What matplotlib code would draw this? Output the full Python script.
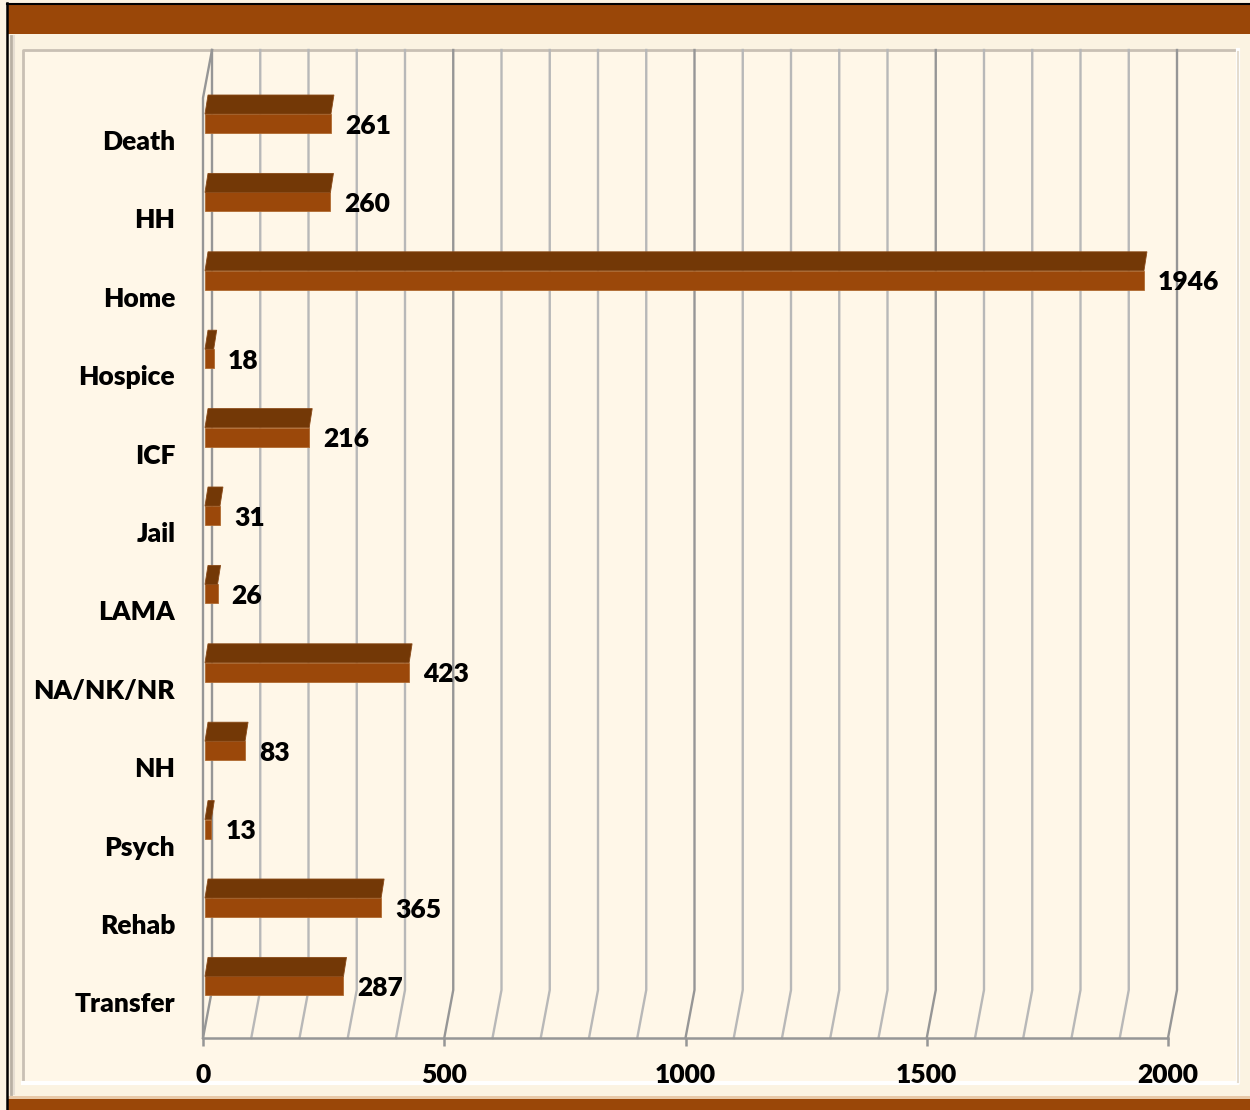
import matplotlib
matplotlib.use('Agg')
import matplotlib.pyplot as plt
from matplotlib.patches import Rectangle, Polygon
from matplotlib.lines import Line2D
from matplotlib.transforms import ScaledTranslation, blended_transform_factory
import numpy as np

plt.rcParams['font.family'] = ['Lato', 'DejaVu Sans']

# ---------------- data ----------------
categories = ['Death', 'HH', 'Home', 'Hospice', 'ICF', 'Jail', 'LAMA',
              'NA/NK/NR', 'NH', 'Psych', 'Rehab', 'Transfer']
values = [261, 260, 1946, 18, 216, 31, 26, 423, 83, 13, 365, 287]
x_ticks = [0, 500, 1000, 1500, 2000]
grid_step = 100
x_max = 2000

# ---------------- styling ----------------
W, H, DPI = 1250, 1110, 100
BROWN = '#9A4708'
BAR_FRONT = '#9B480A'
BAR_TOP = '#733806'
BG_OUTER = '#FBF3E2'
BG_INNER = '#FFF7E8'
GRID_MINOR = '#B8B8B8'
GRID_MAJOR = '#969696'
FS = 19
FW = 'heavy'

fig = plt.figure(figsize=(W / DPI, H / DPI), dpi=DPI, facecolor=BG_OUTER)


def frect(x0, y0, x1, y1, **kw):
    r = Rectangle((x0 / W, 1 - y1 / H), (x1 - x0) / W, (y1 - y0) / H,
                  transform=fig.transFigure, **kw)
    fig.add_artist(r)
    return r


def fline(xs, ys, **kw):
    l = Line2D([x / W for x in xs], [1 - y / H for y in ys],
               transform=fig.transFigure, **kw)
    fig.add_artist(l)
    return l


# frame
frect(7, 4, 1252, 34, facecolor=BROWN, edgecolor='none', zorder=-3)
frect(7, 1099, 1252, 1112, facecolor=BROWN, edgecolor='none', zorder=-3)
frect(7, 1096, 1252, 1099, facecolor='#E8C9A8', edgecolor='none', zorder=-3)
fline([7, 7], [3, 1110], color='black', lw=1.8, zorder=-2)
fline([7, 1250], [4, 4], color='black', lw=1.5, zorder=-2)
# outer bevel
fline([11, 11], [36, 1094], color='#B8B0A4', lw=2.0, zorder=-2)
fline([14, 14], [36, 1094], color='#E6DED2', lw=1.5, zorder=-2)
# inner panel
frect(23, 50, 1238, 1083, facecolor=BG_INNER, edgecolor='none', zorder=-3)
fline([23, 23, 1238], [1083, 50, 50], color='#C9C0B4', lw=2.0, zorder=-2)
fline([23, 1238, 1238], [1083, 1083, 50], color='#FFFFFF', lw=3.0, zorder=-2)
fline([1238, 1238], [52, 1082], color='#E4DCCF', lw=1.5, zorder=-2)

# axes: front plane of the 3-D chart
ax_left, ax_right, ax_top, ax_bottom = 203, 1168, 50, 1038
ax = fig.add_axes([ax_left / W, 1 - ax_bottom / H,
                   (ax_right - ax_left) / W, (ax_bottom - ax_top) / H])
ax.set_zorder(2)
ax.patch.set_visible(False)
ax.set_xlim(0, x_max)
px_per_unit_x = (ax_right - ax_left) / x_max
row_px = 78.4
first_row_px = 123.5
top_val = -(first_row_px - ax_top) / row_px
bottom_val = top_val + (ax_bottom - ax_top) / row_px
ax.set_ylim(bottom_val, top_val)

for s in ['top', 'right', 'left']:
    ax.spines[s].set_visible(False)
ax.spines['bottom'].set_color(GRID_MAJOR)
ax.spines['bottom'].set_linewidth(1.8)

# 3-D walls / gridlines
depth_dx = 9 / px_per_unit_x          # data units
depth_ax = 48 / (ax_bottom - ax_top)  # axes fraction
bt = blended_transform_factory(ax.transData, ax.transAxes)
for v in np.arange(0, x_max + 1, grid_step):
    col = GRID_MAJOR if v % 500 == 0 else GRID_MINOR
    ax.plot([v, v + depth_dx, v + depth_dx], [0, depth_ax, 1], color=col,
            lw=1.7, transform=bt, clip_on=False, zorder=1)
# left wall front edge
ax.plot([0, 0, depth_dx], [0, 1 - depth_ax, 1], color=GRID_MAJOR, lw=1.7,
        transform=bt, clip_on=False, zorder=1)

# bars
idx = np.arange(len(categories))
front_h = 19 / row_px
top_h = 19 / row_px
slant = 3 / px_per_unit_x
shift = ScaledTranslation(2 / DPI, 0, fig.dpi_scale_trans)
bars = ax.barh(idx, values, height=front_h, left=0, color=BAR_FRONT,
               edgecolor='#B06A30', linewidth=0.6, zorder=3)
for p in bars:
    p.set_transform(ax.transData + shift)
for i, v in zip(idx, values):
    y0 = i - front_h / 2
    poly = Polygon([(0, y0), (v, y0), (v + slant, y0 - top_h), (slant, y0 - top_h)],
                   closed=True, facecolor=BAR_TOP, edgecolor='#8A4A18',
                   linewidth=0.6, transform=ax.transData + shift, zorder=3)
    ax.add_patch(poly)
    ax.annotate(str(v), xy=(v, i), xytext=(11.5, -1.5), textcoords='offset points',
                va='center', ha='left', fontsize=FS, fontweight=FW,
                color='black', zorder=4)

# y labels
ax.set_yticks(idx)
ax.set_yticklabels(categories, fontsize=FS, fontweight=FW)
ax.tick_params(axis='y', length=0, pad=20)
down = ScaledTranslation(0, -16.5 / DPI, fig.dpi_scale_trans)
for lbl in ax.get_yticklabels():
    lbl.set_transform(lbl.get_transform() + down)

# x ticks
ax.set_xticks(x_ticks)
ax.set_xticklabels([str(t) for t in x_ticks], fontsize=FS, fontweight=FW)
ax.tick_params(axis='x', length=6, width=1.8, color=GRID_MAJOR, pad=12)

fig.savefig('out.png', dpi=DPI, facecolor=fig.get_facecolor())
